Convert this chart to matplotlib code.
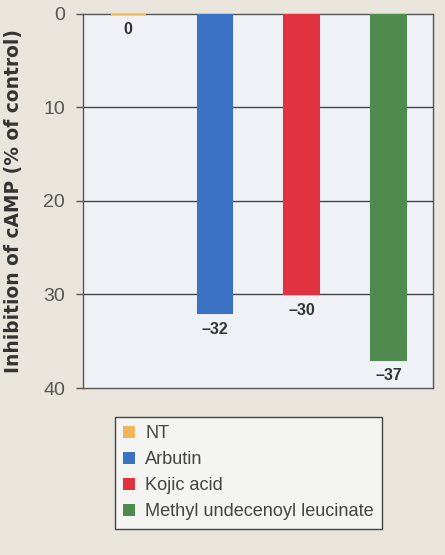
import matplotlib.pyplot as plt
from matplotlib.patches import Patch

# cAMP inhibition per treatment (% of control)
treatments = ['NT', 'Arbutin', 'Kojic acid', 'Methyl undecenoyl leucinate']
inhibition = [0, -32, -30, -37]
colors = ['#f0b45a', '#3c72c4', '#e0323f', '#4f8b4f']
yticks = [0, 10, 20, 30, 40]

plt.rcParams['font.family'] = ['Liberation Sans', 'DejaVu Sans']

fig = plt.figure(figsize=(4.45, 5.55), dpi=100)
fig.patch.set_facecolor('#e9e5dc')
ax = fig.add_axes([0.1865, 0.3009, 0.7865, 0.674])
ax.set_facecolor('#eef1f6')

x = list(range(len(treatments)))
depth = [abs(v) for v in inhibition]
ax.bar(x, depth, width=0.4, color=colors, edgecolor=colors, linewidth=1.5, zorder=3)

# value labels under each bar
for xi, d, v in zip(x, depth, inhibition):
    txt = '0' if v == 0 else '\u2013%d' % abs(v)
    ax.annotate(txt, (xi, d), xytext=(0, -6), textcoords='offset points',
                ha='center', va='top', fontsize=11.5, fontweight='bold', color='#333333')

ax.set_xlim(-0.52, 3.51)
ax.set_ylim(40, 0)
ax.set_yticks(yticks)
ax.set_xticks([])
ax.tick_params(axis='y', length=5, width=1, color='#555555', pad=8,
               labelsize=14, labelcolor='#555555')
for y in yticks[1:-1]:
    ax.axhline(y, color='#444444', linewidth=1, zorder=1)
for s in ax.spines.values():
    s.set_color('#555555')
    s.set_linewidth(1)

ax.set_ylabel('Inhibition of cAMP (% of control)', fontsize=13.4, fontweight='bold',
              family='DejaVu Sans', color='#333333')
ax.yaxis.set_label_coords(-0.17, 0.5)

handles = [Patch(facecolor=c, edgecolor='none') for c in colors]
leg = fig.legend(handles, treatments, loc='upper left', bbox_to_anchor=(115 / 445, 1 - 417 / 555),
                 frameon=True, fancybox=False, fontsize=13.1, handlelength=0.65, handleheight=0.65,
                 handletextpad=0.55, labelspacing=0.5, borderpad=0.45, borderaxespad=0)
leg.get_frame().set_facecolor('#f4f4f2')
leg.get_frame().set_edgecolor('#444444')
leg.get_frame().set_linewidth(1)
leg.get_frame().set_alpha(1)
for t in leg.get_texts():
    t.set_color('#444444')

fig.savefig('out.png', dpi=100, facecolor=fig.get_facecolor())
